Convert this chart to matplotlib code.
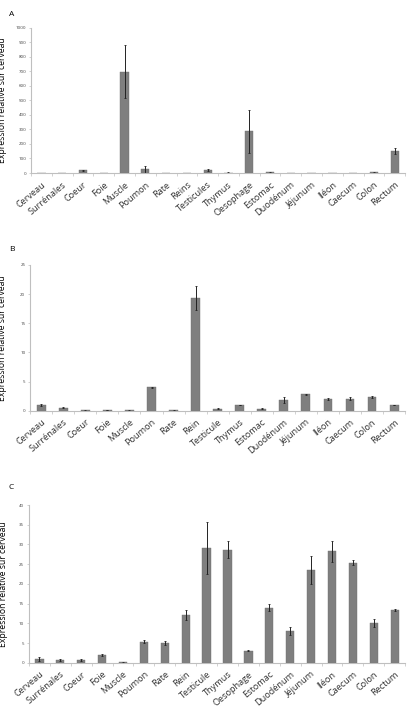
import matplotlib
matplotlib.use("Agg")
import matplotlib.pyplot as plt
from matplotlib import font_manager
import numpy as np

available = {f.name for f in font_manager.fontManager.ttflist}
narrow = None
for cand in ["Liberation Sans Narrow", "DejaVu Sans Condensed"]:
    if cand in available:
        narrow = cand
        break
plt.rcParams['font.family'] = ['Open Sans', 'DejaVu Sans']

cats_a = ["Cerveau", "Surrénales", "Coeur", "Foie", "Muscle", "Poumon", "Rate", "Reins",
          "Testicules", "Thymus", "Oesophage", "Estomac", "Duodénum", "Jéjunum", "Iléon",
          "Caecum", "Colon", "Rectum"]
vals_a = [1, 2, 18, 0.5, 698, 25, 2, 1, 22, 3, 289, 5, 1, 2, 1, 2, 5, 151]
errs_a = [0.5, 1, 4, 0.2, 184, 22, 1, 0.5, 5, 1, 148, 2, 0.5, 1, 0.5, 1, 2, 18]
ticks_a = [0, 100, 200, 300, 400, 500, 600, 700, 800, 900, 1000]

cats_b = ["Cerveau", "Surrénales", "Coeur", "Foie", "Muscle", "Poumon", "Rate", "Rein",
          "Testicule", "Thymus", "Estomac", "Duodénum", "Jéjunum", "Iléon", "Caecum",
          "Colon", "Rectum"]
vals_b = [1.0, 0.5, 0.05, 0.1, 0.05, 4.0, 0.05, 19.3, 0.35, 0.97, 0.35, 1.83, 2.8, 2.0, 2.06, 2.4, 0.97]
errs_b = [0.12, 0.08, 0.02, 0.03, 0.02, 0.12, 0.02, 2.0, 0.08, 0.06, 0.06, 0.55, 0.05, 0.2, 0.3, 0.15, 0.06]
ticks_b = [0, 5, 10, 15, 20, 25]

cats_c = ["Cerveau", "Surrénales", "Coeur", "Foie", "Muscle", "Poumon", "Rate", "Rein",
          "Testicule", "Thymus", "Oesophage", "Estomac", "Duodénum", "Jéjunum", "Iléon",
          "Caecum", "Colon", "Rectum"]
vals_c = [0.93, 0.7, 0.7, 1.95, 0.1, 5.3, 5.0, 12.1, 29.2, 28.7, 3.1, 14.0, 7.95, 23.5, 28.3, 25.4, 10.1, 13.4]
errs_c = [0.4, 0.15, 0.15, 0.15, 0.05, 0.4, 0.6, 1.2, 6.6, 2.2, 0.15, 1.0, 1.0, 3.6, 2.7, 0.7, 1.0, 0.25]
ticks_c = [0, 5, 10, 15, 20, 25, 30, 35, 40]

panels = [
    ("A", cats_a, vals_a, errs_a, ticks_a, [0.076, 0.757, 0.917, 0.204], 0.979),
    ("B", cats_b, vals_b, errs_b, ticks_b, [0.074, 0.4232, 0.919, 0.2048], 0.650),
    ("C", cats_c, vals_c, errs_c, ticks_c, [0.071, 0.0692, 0.922, 0.2215], 0.316),
]

fig = plt.figure(figsize=(4.08, 7.12), dpi=100)
axis_col = "#bfbfbf"
for letter, cats, vals, errs, ticks, rect, ly in panels:
    ax = fig.add_axes(rect)
    x = np.arange(len(cats))
    ax.bar(x, vals, width=0.4, color="#7f7f7f", edgecolor="#6f6f6f", linewidth=0.3,
           yerr=errs, error_kw=dict(ecolor="#222222", elinewidth=0.7, capsize=1.0, capthick=0.6))
    ax.set_xlim(-0.5, len(cats) - 0.5)
    ax.set_ylim(ticks[0], ticks[-1])
    ax.set_yticks(ticks)
    ax.set_yticklabels([str(t) for t in ticks], fontsize=3.2, color="#444444")
    ax.set_xticks(x)
    ax.set_xticklabels(cats, rotation=40, ha="right", rotation_mode="anchor", fontsize=6.6,
                       color="#333333")
    ax.set_xticks(np.arange(-0.5, len(cats), 1.0), minor=True)
    ax.tick_params(axis="x", which="major", length=0, pad=5)
    ax.tick_params(axis="x", which="minor", length=2.5, width=0.5, color=axis_col, direction="out")
    ax.tick_params(axis="y", length=1.5, width=0.5, color=axis_col, pad=2)
    for s in ["top", "right"]:
        ax.spines[s].set_visible(False)
    for s in ["left", "bottom"]:
        ax.spines[s].set_color(axis_col)
        ax.spines[s].set_linewidth(0.8)
    if narrow:
        ax.set_ylabel("Expression relative sur cerveau", fontsize=7.5, family=narrow)
    else:
        ax.set_ylabel("Expression relative sur cerveau", fontsize=6.2)
    fig_w = 408.0
    ax.yaxis.set_label_coords((7.5 - rect[0] * fig_w) / (rect[2] * fig_w), 0.5)
    fig.text(0.022, ly, letter, fontsize=6, ha="left", va="center")

fig.savefig("out.png", dpi=100)
